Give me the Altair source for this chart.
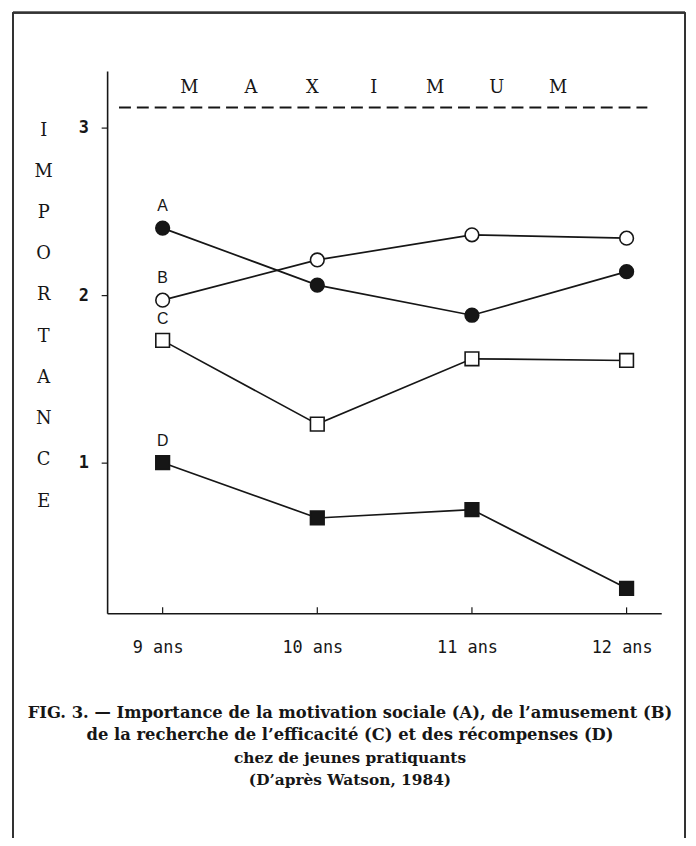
import altair as alt
import pandas as pd

# ---------------- data ----------------
ages = [9, 10, 11, 12]
series_names = ["A", "B", "C", "D"]
values_A = [2.40, 2.06, 1.88, 2.14]   # motivation sociale
values_B = [1.97, 2.21, 2.36, 2.34]   # amusement
values_C = [1.73, 1.23, 1.62, 1.61]   # recherche de l'efficacité
values_D = [1.00, 0.67, 0.72, 0.25]   # récompenses
maximum_value = 3.12
y_tick_values = [1, 2, 3]
y_title_letters = list("IMPORTANCE")
max_letters = list("MAXIMUM")
caption_lines = [
    "FIG. 3. — Importance de la motivation sociale (A), de l’amusement (B)",
    "de la recherche de l’efficacité (C) et des récompenses (D)",
    "chez de jeunes pratiquants",
    "(D’après Watson, 1984)",
]

# ---------------- tables ----------------
rows = []
for name, vals in zip(series_names, [values_A, values_B, values_C, values_D]):
    for a, v in zip(ages, vals):
        rows.append({"series": name, "age": a, "value": v})
df = pd.DataFrame(rows)
first = df[df["age"] == ages[0]]
ticks_df = pd.DataFrame({"age": ages})

W, H = 559, 547
INK = "#161616"

x_scale = alt.Scale(domain=[8.641, 12.224], nice=False, zero=False)
y_scale = alt.Scale(domain=[0.101, 3.337], nice=False, zero=False)

X = alt.X("age:Q", scale=x_scale,
          axis=alt.Axis(values=ages, labelExpr="datum.value + ' ans'",
                        title=None, grid=False, tickSize=0, labelPadding=27,
                        labelOffset=-5, labelFont="DejaVu Sans Mono",
                        labelFontSize=17, labelColor=INK, domainColor=INK,
                        domainWidth=1.6))
Y = alt.Y("value:Q", scale=y_scale,
          axis=alt.Axis(values=y_tick_values, format="d", title=None,
                        grid=False, tickSize=6, tickColor=INK, tickWidth=1.2,
                        labelPadding=13, labelFont="DejaVu Sans Mono",
                        labelFontWeight="bold", labelFontSize=17,
                        labelColor=INK, domainColor=INK, domainWidth=1.6))

base = alt.Chart(df)

lines = base.mark_line(strokeWidth=1.7, color=INK).encode(
    x=X, y=Y, detail="series:N")

points = base.mark_point(filled=True, stroke=INK, strokeWidth=1.6, opacity=1).encode(
    x="age:Q", y="value:Q",
    shape=alt.Shape("series:N", scale=alt.Scale(domain=series_names,
                    range=["circle", "circle", "square", "square"]), legend=None),
    fill=alt.Fill("series:N", scale=alt.Scale(domain=series_names,
                  range=[INK, "white", "white", INK]), legend=None),
    size=alt.Size("series:N", scale=alt.Scale(domain=series_names,
                  range=[190, 190, 240, 240]), legend=None),
)

labels = alt.Chart(first).mark_text(dy=-22, fontSize=16, font="Liberation Sans",
                                    color=INK).encode(
    x="age:Q", y="value:Q", text="series:N")

xticks = alt.Chart(ticks_df).mark_rule(color=INK, strokeWidth=1.2).encode(
    x="age:Q", y=alt.value(H), y2=alt.value(H - 6))

max_rule = alt.Chart(pd.DataFrame({"v": [maximum_value]})).mark_rule(
    color=INK, strokeWidth=2, strokeDash=[12, 6]).encode(
    y="v:Q", x=alt.value(12), x2=alt.value(545))

max_df = pd.DataFrame({"letter": max_letters, "i": range(len(max_letters))})
max_text = alt.Chart(max_df).transform_calculate(
    px="83 + datum.i * 62", py="17").mark_text(
    font="DejaVu Serif", fontSize=18, color=INK, baseline="middle").encode(
    x=alt.X("px:Q", scale=None), y=alt.Y("py:Q", scale=None), text="letter:N")

ytitle_df = pd.DataFrame({"letter": y_title_letters, "i": range(len(y_title_letters))})
ytitle = alt.Chart(ytitle_df).transform_calculate(
    px="-64", py="60 + datum.i * 41.6").mark_text(
    font="DejaVu Serif", fontSize=18, color=INK, baseline="middle").encode(
    x=alt.X("px:Q", scale=None), y=alt.Y("py:Q", scale=None), text="letter:N")

cap_df = pd.DataFrame({"line": caption_lines, "i": range(len(caption_lines))})
caption = alt.Chart(cap_df).transform_calculate(
    px="245", py="648 + datum.i * 22.3",
    fs="datum.i < 2 ? 16.5 : 15.5").mark_text(
    font="DejaVu Serif", fontWeight="bold", color=INK,
    baseline="middle", align="center").encode(
    x=alt.X("px:Q", scale=None), y=alt.Y("py:Q", scale=None),
    size=alt.Size("fs:Q", scale=None), text="line:N")

frame_left = alt.Chart(ticks_df).mark_rule(color="#333", strokeWidth=1.6).encode(
    x=alt.value(-95), y=alt.value(-59), y2=alt.value(780))
frame_top = alt.Chart(ticks_df).mark_rule(color="#333", strokeWidth=1.6).encode(
    x=alt.value(-95), x2=alt.value(583), y=alt.value(-59))
frame_right = alt.Chart(ticks_df).mark_rule(color="#333", strokeWidth=1.6).encode(
    x=alt.value(583), y=alt.value(-59), y2=alt.value(780))

chart = alt.layer(
    frame_left, frame_top, frame_right,
    lines, points, labels, xticks, max_rule, max_text, ytitle, caption,
).properties(
    width=W, height=H,
    autosize=alt.AutoSizeParams(type="none"),
    padding={"left": 100, "top": 60, "right": 27, "bottom": 223},
    background="white",
).configure_view(stroke=None)

chart.save("out.html", embed_options={"renderer": "svg", "actions": False})
